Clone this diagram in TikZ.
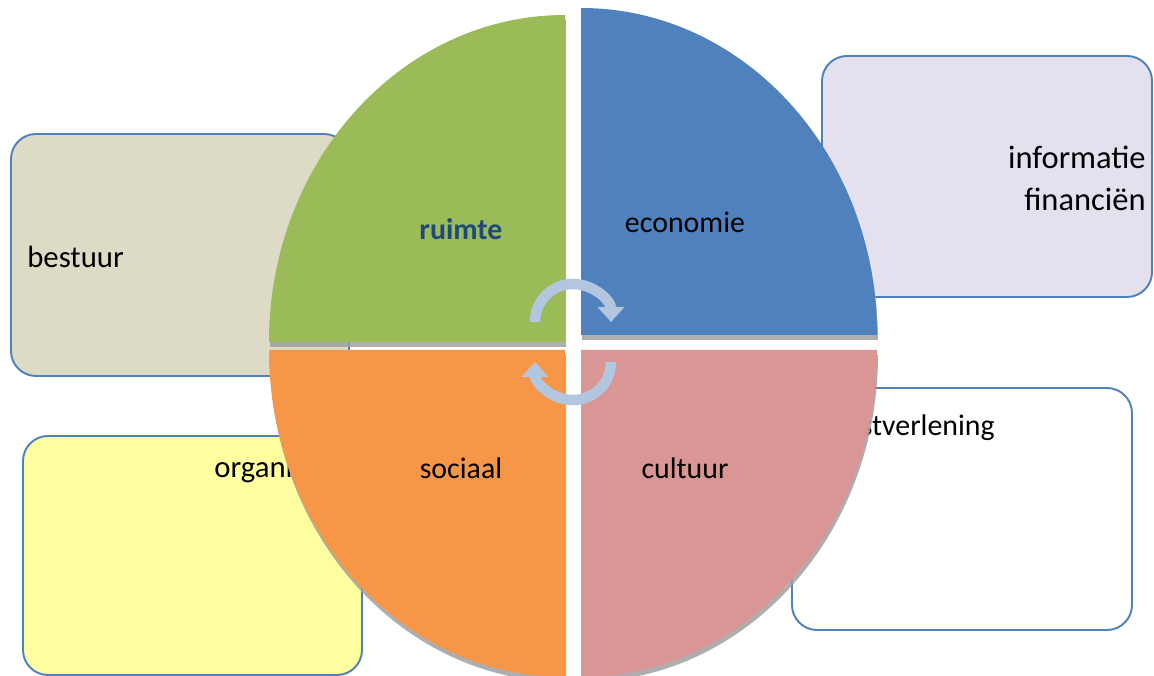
\documentclass[tikz,border=0pt]{standalone}
\usepackage{fontspec}
\setmainfont{Carlito}
\usepackage{tikz}
\usetikzlibrary{positioning}
\usetikzlibrary{arrows.meta}

\definecolor{kader}{HTML}{4F81BD}
\definecolor{beige}{HTML}{DDDAC6}
\definecolor{lila}{HTML}{E5E0EE}
\definecolor{geel}{HTML}{FFFF9F}
\definecolor{groen}{HTML}{9BBB59}
\definecolor{blauw}{HTML}{4F81BD}
\definecolor{oranje}{HTML}{F79646}
\definecolor{roze}{HTML}{D99694}
\definecolor{schaduwgrijs}{HTML}{A0A0A0}
\definecolor{pijlblauw}{HTML}{B3C6E0}
\definecolor{donkerblauw}{HTML}{1F497D}

\begin{document}
\begin{tikzpicture}[x=0.02cm, y=0.02cm,
    vak/.style={draw=kader, line width=1.1pt, rounded corners=0.5cm},
    woord/.style={inner sep=0pt, font=\fontsize{17}{20}\selectfont},
    schaduw/.style={fill=schaduwgrijs, opacity=0.85},
    pijl/.style={draw=pijlblauw, line width=0.21cm, -{Triangle[width=0.52cm,length=0.3cm]}}]

  \useasboundingbox (0,0) rectangle (1154,676);

	%draw boxes
    \foreach \xa/\ya/\xb/\yb/\kleur in {11/300/349/542/beige, 822/379/1152/620/lila, 792/46/1132/288/white, 23/1/362/240/geel}{
         \filldraw[vak, fill=\kleur] (\xa,\ya) rectangle (\xb,\yb);
    }

    %box texts
    \node[woord, anchor=west, font=\fontsize{17.5}{20}\selectfont] (bestuur) at (27,419) {bestuur};
    \node[woord, anchor=east, align=right, font=\fontsize{18.5}{24}\selectfont] (informatie) at (1146,498) {informatie\\financiën};
    \node[woord, anchor=east] (dienstverlening) at (995,248) {dienstverlening};
    \node[woord, anchor=west, font=\fontsize{17.5}{20}\selectfont] (organisatie) at (214,206) {organisatie};

    %quarters with shadow
 \def\rx{296};
 \def\ry{327};
    \foreach \cx/\cy/\hoek/\kleur in {565/334/90/groen, 581/341/0/blauw, 565/326/180/oranje, 581/326/270/roze}{
         \fill[schaduw, shift={(1,-5)}] (\cx,\cy) -- ++({\rx*cos(\hoek+90)},{\ry*sin(\hoek+90)})
              arc[start angle=\hoek+90, end angle=\hoek, x radius=\rx, y radius=\ry] -- cycle;
         \fill[\kleur] (\cx,\cy) -- ++({\rx*cos(\hoek+90)},{\ry*sin(\hoek+90)})
              arc[start angle=\hoek+90, end angle=\hoek, x radius=\rx, y radius=\ry] -- cycle;
    }

    %quarter labels
    \node[woord, text=donkerblauw, font=\fontsize{17}{20}\selectfont\bfseries] (ruimte) at (461,447) {ruimte};
    \node[woord] (economie) at (685,454) {economie};
    \node[woord] (sociaal) at (461,208) {sociaal};
    \node[woord] (cultuur) at (685,208) {cultuur};

    %cycle arrows
    \coordinate (boogboven) at (535,354);
    \coordinate (boogonder) at (611,314);
    \draw[pijl] (boogboven) arc[start angle=180, end angle=0, radius=38];
    \draw[pijl] (boogonder) arc[start angle=0, end angle=-180, radius=38];

\end{tikzpicture}
\end{document}
